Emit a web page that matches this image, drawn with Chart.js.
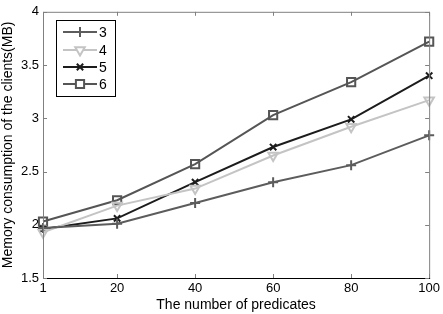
<!DOCTYPE html>
<html><head><meta charset="utf-8">
<script src="https://cdn.jsdelivr.net/npm/chart.js@4"></script>
<style>html,body{margin:0;padding:0;background:#fff}#wrap{width:443px;height:314px}</style>
</head><body><div id="wrap"><canvas id="c" width="443" height="314"></canvas></div>
<script>
const categories = [1, 20, 40, 60, 80, 100];
const xTicks = [1, 20, 40, 60, 80, 100];
const yTicks = [1.5, 2, 2.5, 3, 3.5, 4];
const seriesNames = ['3', '4', '5', '6'];
const s3 = [1.97, 2.01, 2.205, 2.40, 2.56, 2.84];
const s4 = [1.93, 2.18, 2.34, 2.65, 2.92, 3.17];
const s5 = [1.96, 2.06, 2.40, 2.73, 2.99, 3.40];
const s6 = [2.03, 2.23, 2.57, 3.03, 3.34, 3.72];

const styles = [
  {color:'#5c5c5c', point:'cross', rot:0, r:5},
  {color:'#c4c4c4', point:'triangle', rot:180, r:5.5},
  {color:'#1c1c1c', point:'crossRot', rot:0, r:4.5},
  {color:'#555555', point:'rect', rot:0, r:5.8}
];
const allSeries = [s3, s4, s5, s6];
const FONT = 'Liberation Sans, Arial, sans-serif';

const datasets = allSeries.map((s, i) => ({
  label: seriesNames[i],
  data: categories.map((x, j) => ({x: x, y: s[j]})),
  borderColor: styles[i].color,
  backgroundColor: 'rgba(0,0,0,0)',
  borderWidth: 2,
  pointStyle: styles[i].point,
  pointRotation: styles[i].rot,
  pointRadius: styles[i].r,
  pointBorderWidth: 2,
  pointBorderColor: styles[i].color,
  pointBackgroundColor: 'rgba(0,0,0,0)',
  tension: 0,
  clip: false
}));

const framePlugin = {
  id: 'frame',
  afterDraw(chart) {
    const {ctx, chartArea: a, scales} = chart;
    ctx.save();
    ctx.strokeStyle = '#808080';
    ctx.lineWidth = 1;
    ctx.beginPath();
    ctx.moveTo(a.left + 0.5, a.bottom);
    ctx.lineTo(a.left + 0.5, a.top + 0.5);
    ctx.lineTo(a.right + 0.5, a.top + 0.5);
    ctx.lineTo(a.right + 0.5, a.bottom);
    ctx.stroke();
    ctx.strokeStyle = '#000';
    ctx.beginPath();
    ctx.moveTo(a.left, a.bottom + 0.5);
    ctx.lineTo(a.right + 1, a.bottom + 0.5);
    ctx.stroke();
    // inward ticks
    ctx.strokeStyle = '#808080';
    ctx.beginPath();
    yTicks.forEach(v => {
      const y = Math.round(scales.y.getPixelForValue(v)) + 0.5;
      ctx.moveTo(a.left, y); ctx.lineTo(a.left + 4, y);
      ctx.moveTo(a.right, y); ctx.lineTo(a.right - 4, y);
    });
    xTicks.forEach(v => {
      const x = Math.round(scales.x.getPixelForValue(v)) + 0.5;
      ctx.moveTo(x, a.bottom); ctx.lineTo(x, a.bottom - 4);
      ctx.moveTo(x, a.top); ctx.lineTo(x, a.top + 4);
    });
    ctx.stroke();
    // legend
    const lx = 56, ly = 20, lw = 59, lh = 76;
    ctx.fillStyle = '#fff';
    ctx.fillRect(lx, ly, lw, lh);
    ctx.strokeStyle = '#000';
    ctx.lineWidth = 1;
    ctx.strokeRect(lx + 0.5, ly + 0.5, lw, lh);
    const rows = [32, 50, 67, 84];
    datasets.forEach((d, i) => {
      const y = rows[i];
      ctx.strokeStyle = d.borderColor;
      ctx.lineWidth = 2;
      ctx.beginPath();
      ctx.moveTo(63, y); ctx.lineTo(97, y);
      ctx.stroke();
      ctx.fillStyle = '#fff';
      ctx.strokeStyle = d.borderColor;
      Chart.helpers.drawPoint(ctx, {pointStyle: d.pointStyle, rotation: d.pointRotation, radius: d.pointRadius, borderWidth: 2}, 80, y);
      ctx.fillStyle = '#000';
      ctx.font = '14px ' + FONT;
      ctx.textAlign = 'left';
      ctx.textBaseline = 'middle';
      ctx.fillText(d.label, 99, y + 1);
    });
    ctx.restore();
  }
};

new Chart(document.getElementById('c'), {
  type: 'line',
  data: {datasets},
  plugins: [framePlugin],
  options: {
    responsive: false,
    animation: false,
    layout: {padding: {top: 7, right: 13, left: 0, bottom: 0}},
    plugins: {legend: {display: false}, tooltip: {enabled: false}},
    scales: {
      x: {
        type: 'linear', min: 1, max: 100,
        afterBuildTicks(s) { s.ticks = xTicks.map(v => ({value: v})); },
        afterFit(s) { s.height = 36; },
        grid: {display: false, drawTicks: false},
        border: {display: false},
        ticks: {color: '#000', font: {size: 13, family: FONT}, padding: 3, maxRotation: 0, autoSkip: false, callback: v => String(v)},
        title: {display: true, text: 'The number of predicates', color: '#000', font: {size: 14, family: FONT}, padding: {top: 0, bottom: 0}}
      },
      y: {
        min: 1.5, max: 4,
        afterBuildTicks(s) { s.ticks = yTicks.map(v => ({value: v})); },
        afterFit(s) { s.width = 43; },
        grid: {display: false, drawTicks: false},
        border: {display: false},
        ticks: {color: '#000', font: {size: 13, family: FONT}, padding: 4, autoSkip: false, callback: v => String(v)},
        title: {display: true, text: 'Memory consumption of the clients(MB)', color: '#000', font: {size: 14, family: FONT}, padding: {top: 0, bottom: 0}}
      }
    }
  }
});
</script></body></html>
